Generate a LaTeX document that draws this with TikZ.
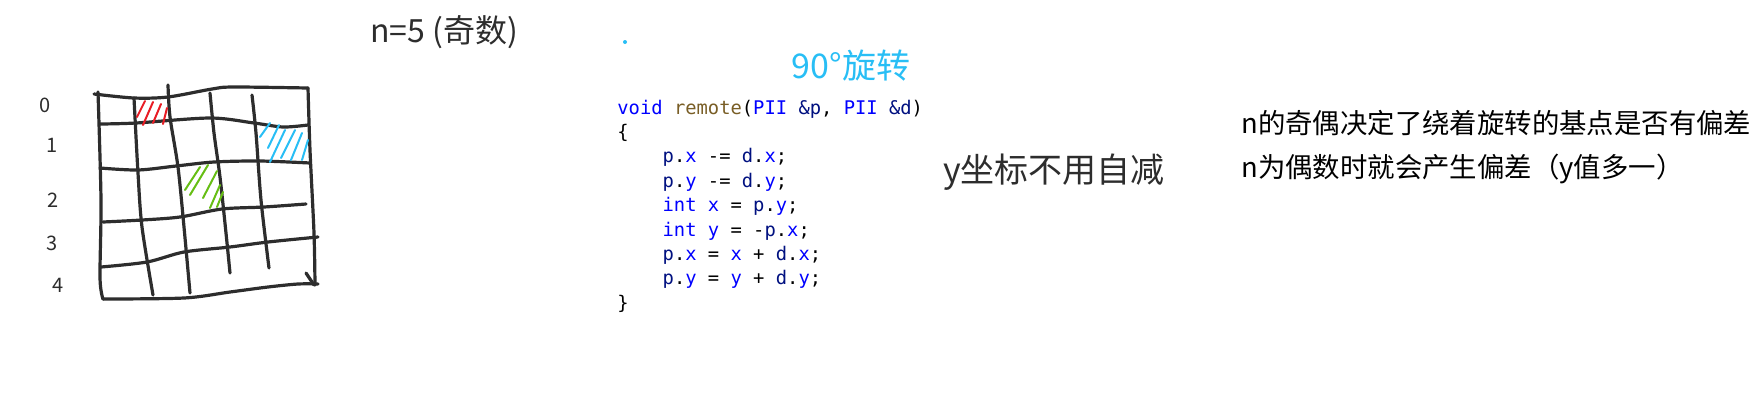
\documentclass[tikz,border=0pt]{standalone}
\usepackage{fontspec}
\newfontfamily\cjk{Noto Sans CJK SC}
\newfontfamily\codefont{DejaVu Sans Mono}
\definecolor{kwblue}{RGB}{0,0,255}
\definecolor{varnavy}{RGB}{0,16,128}
\definecolor{fnbrown}{RGB}{121,94,38}
\definecolor{inkgray}{RGB}{45,45,45}
\definecolor{hatchred}{RGB}{232,28,36}
\definecolor{hatchgreen}{RGB}{102,190,20}
\definecolor{hatchblue}{RGB}{40,190,245}
\newcommand\kw[1]{\textcolor{kwblue}{#1}}
\newcommand\fn[1]{\textcolor{fnbrown}{#1}}
\newcommand\vr[1]{\textcolor{varnavy}{#1}}
\newcommand\codeind{\phantom{xxxx}}

\begin{document}
\begin{tikzpicture}[x=0.5pt,y=-0.5pt,
  gridline/.style={draw=inkgray,line width=1.6pt,line cap=round,line join=round},
  hatch/.style={draw=#1,line width=1pt,line cap=round},
  ink/.style={text=inkgray,font=\cjk\fontsize{17pt}{20pt}\selectfont,inner sep=0pt},
  rowlabel/.style={text=inkgray,font=\cjk\fontsize{10pt}{12pt}\selectfont,inner sep=0pt},
  codeline/.style={anchor=base west,inner sep=0pt,font=\codefont\fontsize{9.4pt}{12pt}\selectfont},
  note/.style={anchor=base west,inner sep=0pt,font=\cjk\fontsize{13.7pt}{16pt}\selectfont}]
  \useasboundingbox (0,0) rectangle (1757,409);

  % hand drawn 5x5 grid
  \draw[gridline] plot[smooth,tension=0.5] coordinates {(94,94) (134,98) (168,97) (212,89) (233,87) (308,88)};
  \draw[gridline] plot[smooth,tension=0.5] coordinates {(100,124) (136,123) (210,118) (254,123) (283,127) (308,125)};
  \draw[gridline] plot[smooth,tension=0.5] coordinates {(100,168) (138,170) (176,166) (214,162) (260,161) (310,163)};
  \draw[gridline] plot[smooth,tension=0.5] coordinates {(103,222) (142,220) (180,217) (222,209) (264,207) (306,204)};
  \draw[gridline] plot[smooth,tension=0.5] coordinates {(101,267) (147,262) (184,252) (230,247) (268,242) (318,237)};
  \draw[gridline] plot[smooth,tension=0.5] coordinates {(103,299) (184,298) (230,292) (268,287) (298,284) (318,284)};
  \draw[gridline] (306,273) -- (314,285);
  \draw[gridline] plot[smooth,tension=0.5] coordinates {(98,92) (101,200) (100,278) (103,299)};
  \draw[gridline] plot[smooth,tension=0.5] coordinates {(134,98) (138,173) (142,227) (153,295)};
  \draw[gridline] plot[smooth,tension=0.5] coordinates {(168,85) (170,117) (178,167) (184,227) (190,293)};
  \draw[gridline] plot[smooth,tension=0.5] coordinates {(210,93) (214,133) (220,177) (226,233) (230,273)};
  \draw[gridline] plot[smooth,tension=0.5] coordinates {(252,95) (256,133) (261,200) (269,268)};
  \draw[gridline] plot[smooth,tension=0.5] coordinates {(308,88) (310,150) (314,233) (315,285)};

  % shaded cells
  \draw[hatch=hatchred] (137,117) -- (145,101) (143,125) -- (153,102) (153,123) -- (161,104) (163,124) -- (167,108);
  \draw[hatch=hatchgreen] (185,190) -- (200,167) (190,195) -- (208,165) (203,198) -- (217,171) (210,208) -- (220,185) (217,207) -- (223,192);
  \draw[hatch=hatchblue] (260,137) -- (270,123) (268,148) -- (279,125) (270,162) -- (285,130) (281,158) -- (295,130) (291,160) -- (302,133) (302,160) -- (308,140);

  % row numbers
  \node[rowlabel] (r0) at (45,105) {0};
  \node[rowlabel] (r1) at (52,145) {1};
  \node[rowlabel] (r2) at (53,200) {2};
  \node[rowlabel] (r3) at (52,243) {3};
  \node[rowlabel] (r4) at (58,285) {4};

  \node[ink,font=\cjk\fontsize{16pt}{19pt}\selectfont] (nsize) at (444,32) {n=5 (奇数)};
  \fill[hatchblue] (625,42) circle (2);
  \node[ink,text=hatchblue] (rot) at (851,66) {90°旋转};
  \node[ink] (ynote) at (1054,172) {y坐标不用自减};

  % code
  \node[codeline] (c1) at (617,114) {\kw{void} \fn{remote}(\kw{PII} \vr{\&p}, \kw{PII} \vr{\&d})};
  \node[codeline] (c2) at (617,138.4) {\{};
  \node[codeline] (c3) at (617,162.8) {\codeind\vr{p}.\kw{x} -= \vr{d}.\kw{x};};
  \node[codeline] (c4) at (617,187.2) {\codeind\vr{p}.\kw{y} -= \vr{d}.\kw{y};};
  \node[codeline] (c5) at (617,211.6) {\codeind\kw{int} \kw{x} = \vr{p}.\kw{y};};
  \node[codeline] (c6) at (617,236) {\codeind\kw{int} \kw{y} = -\vr{p}.\kw{x};};
  \node[codeline] (c7) at (617,260.4) {\codeind\vr{p}.\kw{x} = \kw{x} + \vr{d}.\kw{x};};
  \node[codeline] (c8) at (617,284.8) {\codeind\vr{p}.\kw{y} = \kw{y} + \vr{d}.\kw{y};};
  \node[codeline] (c9) at (617,309.2) {\}};

  % notes
  \node[note] (note1) at (1241,133) {n的奇偶决定了绕着旋转的基点是否有偏差};
  \node[note] (note2) at (1241,177) {n为偶数时就会产生偏差（y值多一）};
\end{tikzpicture}
\end{document}
